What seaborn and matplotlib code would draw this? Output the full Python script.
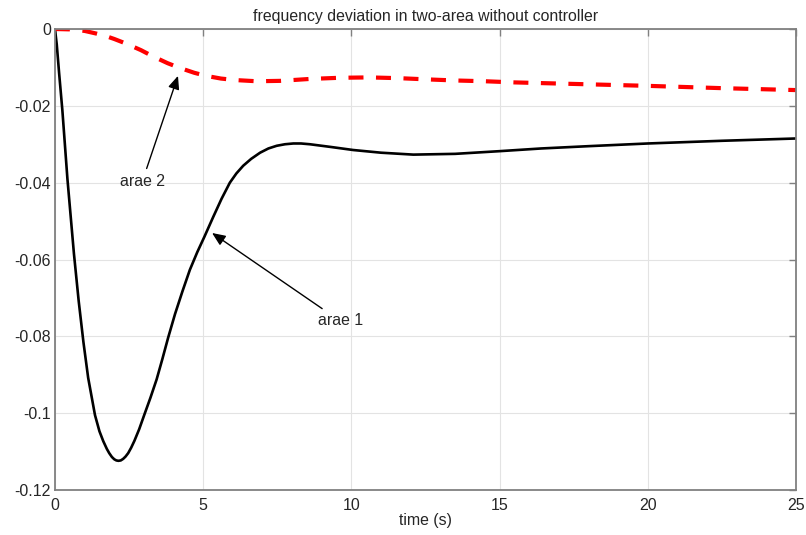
import numpy as np
import pandas as pd
import seaborn as sns
import matplotlib.pyplot as plt

# values
t_area1 = [0, 0.06, 0.14, 0.25, 0.42, 0.64, 0.8, 0.96, 1.12, 1.35, 1.5, 1.63, 1.75,
           1.83, 1.92, 2.0, 2.07, 2.14, 2.22, 2.3, 2.38, 2.47, 2.57, 2.68, 2.84,
           3.01, 3.22, 3.43, 3.62, 3.82, 4.05, 4.3, 4.55, 4.8, 5.04, 5.34, 5.62,
           5.9, 6.12, 6.35, 6.62, 6.92, 7.2, 7.48, 7.76, 8.04, 8.3, 8.6, 9.3,
           10.06, 11.0, 12.09, 13.5, 15.0, 16.4, 18.0, 20.0, 22.5, 25.0]
f_area1 = [0, -0.0040, -0.0115, -0.0212, -0.0390, -0.0585, -0.0708, -0.0815,
           -0.0908, -0.1005, -0.1047, -0.1073, -0.1093, -0.1104, -0.1114, -0.1120,
           -0.1123, -0.1124, -0.1123, -0.1119, -0.1113, -0.1104, -0.1090, -0.1072,
           -0.1042, -0.1005, -0.0960, -0.0912, -0.0860, -0.0803, -0.0742, -0.0683,
           -0.0627, -0.0581, -0.0541, -0.0489, -0.0442, -0.0400, -0.0376, -0.0356,
           -0.0338, -0.0322, -0.0311, -0.0304, -0.0300, -0.0298, -0.0298, -0.0300,
           -0.0307, -0.0315, -0.0322, -0.0327, -0.0325, -0.0318, -0.0311, -0.0305,
           -0.0298, -0.0291, -0.0285]

t_area2 = [0, 0.5, 1.0, 1.4, 1.7, 2.0, 2.4, 2.9, 3.3, 3.8, 4.2, 4.7, 5.1, 5.6, 6.1,
           6.8, 7.6, 8.6, 9.6, 10.6, 11.6, 12.5, 13.5, 14.5, 15.5, 17.5, 20.0,
           22.5, 25.0]
f_area2 = [0, -0.0001, -0.0005, -0.0012, -0.0018, -0.0026, -0.0038, -0.0055,
           -0.0071, -0.0089, -0.0101, -0.0114, -0.0122, -0.0129, -0.0133, -0.0136,
           -0.0135, -0.0130, -0.0127, -0.0126, -0.0128, -0.0131, -0.0134, -0.0136,
           -0.0139, -0.0143, -0.0148, -0.0154, -0.0159]

x_ticks = [0, 5, 10, 15, 20, 25]
y_ticks = [-0.12, -0.1, -0.08, -0.06, -0.04, -0.02, 0]
y_tick_labels = ['-0.12', '-0.1', '-0.08', '-0.06', '-0.04', '-0.02', '0']

sns.set_style("whitegrid")
plt.rcParams['font.family'] = ['Liberation Sans', 'DejaVu Sans']

fig = plt.figure(figsize=(8.06, 5.35), dpi=100)
ax = fig.add_axes([0.0682, 0.0841, 0.9194, 0.8617])

sns.lineplot(x=t_area1, y=f_area1, ax=ax, color='black', linewidth=1.9, sort=False)
sns.lineplot(x=t_area2, y=f_area2, ax=ax, color='red', linewidth=3, sort=False)
ax.lines[-1].set_dashes([3.6, 3.0])

ax.set_xlim(0, 25)
ax.set_ylim(-0.12, 0)
ax.set_xticks(x_ticks)
ax.set_yticks(y_ticks)
ax.set_yticklabels(y_tick_labels)

txt = '#262626'
ax.grid(True, color='#e3e3e3', linewidth=0.8)
for s in ax.spines.values():
    s.set_visible(True)
    s.set_color('#808080')
    s.set_linewidth(1.3)
ax.tick_params(direction='in', length=5, width=1, colors='#808080',
               labelcolor=txt, labelsize=11.5, top=True, right=True)
ax.tick_params(axis='x', pad=6)
ax.tick_params(axis='y', pad=3)

ax.set_title('frequency deviation in two-area without controller',
             fontsize=11.4, color=txt, pad=6)
ax.set_xlabel('time (s)', fontsize=11.4, color=txt, labelpad=0)

arrow = dict(arrowstyle='-|>,head_length=0.7,head_width=0.3', color='black',
             lw=1.0, shrinkA=2, shrinkB=0)
ax.annotate('arae 2', xy=(4.15, -0.0122), xytext=(2.94, -0.0398),
            ha='center', va='center', fontsize=11.4, color=txt, arrowprops=arrow)
ax.annotate('arae 1', xy=(5.30, -0.0531), xytext=(9.62, -0.0760),
            ha='center', va='center', fontsize=11.4, color=txt, arrowprops=arrow)

fig.savefig('out.png', dpi=100)
